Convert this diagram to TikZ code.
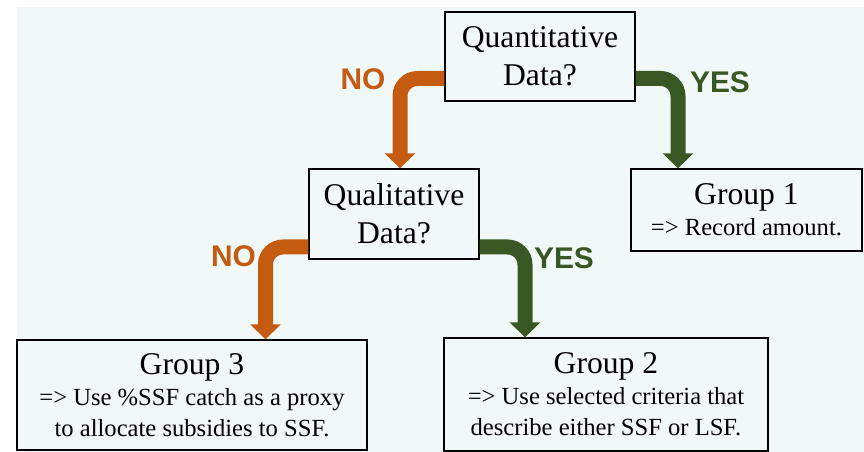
\documentclass[tikz,border=0pt]{standalone}
\usepackage{xcolor}
\usepackage{fontspec}
\setmainfont{Liberation Serif}
\newfontfamily\labelfont{Liberation Sans}
\usepackage{tikz}
\usetikzlibrary{arrows.meta}

\definecolor{noorange}{HTML}{C55A11}
\definecolor{yesgreen}{HTML}{385723}
\definecolor{bgcyan}{HTML}{F1F8F8}

\tikzset{
    question/.style={draw, line width=0.8pt, fill=bgcyan, align=center, inner sep=0pt,
        font=\fontsize{18}{21.6}\selectfont},
    group/.style={draw, line width=0.8pt, fill=bgcyan, align=center, inner sep=0pt,
        font=\fontsize{14}{17.6}\selectfont},
    branch/.style={line width=0.3cm, rounded corners=0.35cm,
        -{Triangle[width=0.6cm, length=0.3cm]}},
    answer/.style={font=\labelfont\bfseries\fontsize{17}{20}\selectfont, inner sep=0pt}
}

\begin{document}
\begin{tikzpicture}
    \useasboundingbox (0, 0) rectangle (17.28, -9.04);
    \fill[bgcyan] (0.34, -0.14) rectangle (17.28, -9.04);

    \node[question, minimum width=3.8cm, minimum height=1.78cm] (quant) at (10.8, -1.13)
        {Quantitative\\Data?};
    \node[question, minimum width=3.4cm, minimum height=1.8cm] (qual) at (7.88, -4.28)
        {Qualitative\\Data?};
    \node[group, minimum width=4.62cm, minimum height=1.64cm] (g1) at (14.93, -4.2)
        {{\fontsize{18}{18}\selectfont Group 1}\\=> Record amount.};
    \node[group, minimum width=6.48cm, minimum height=2.26cm] (g2) at (12.12, -7.89)
        {{\fontsize{18}{18}\selectfont Group 2}\\=> Use selected criteria that\\describe either SSF or LSF.};
    \node[group, minimum width=7.0cm, minimum height=2.2cm] (g3) at (3.84, -7.9)
        {{\fontsize{18}{18}\selectfont Group 3}\\=> Use \%SSF catch as a proxy\\to allocate subsidies to SSF.};

    \draw[branch, noorange] ([yshift=-0.44cm]quant.west) -| ([xshift=0.12cm]qual.north);
    \draw[branch, yesgreen] ([yshift=-0.44cm]quant.east) -| ([xshift=-1.37cm]g1.north);
    \draw[branch, noorange] ([yshift=-0.66cm]qual.west) -| ([xshift=1.47cm]g3.north);
    \draw[branch, yesgreen] ([yshift=-0.66cm]qual.east) -| ([xshift=-1.62cm]g2.north);

    \node[answer, noorange] (noA) at (7.26, -1.59) {NO};
    \node[answer, yesgreen] (yesA) at (14.4, -1.64) {YES};
    \node[answer, noorange] (noB) at (4.67, -5.12) {NO};
    \node[answer, yesgreen] (yesB) at (11.28, -5.16) {YES};
\end{tikzpicture}
\end{document}
